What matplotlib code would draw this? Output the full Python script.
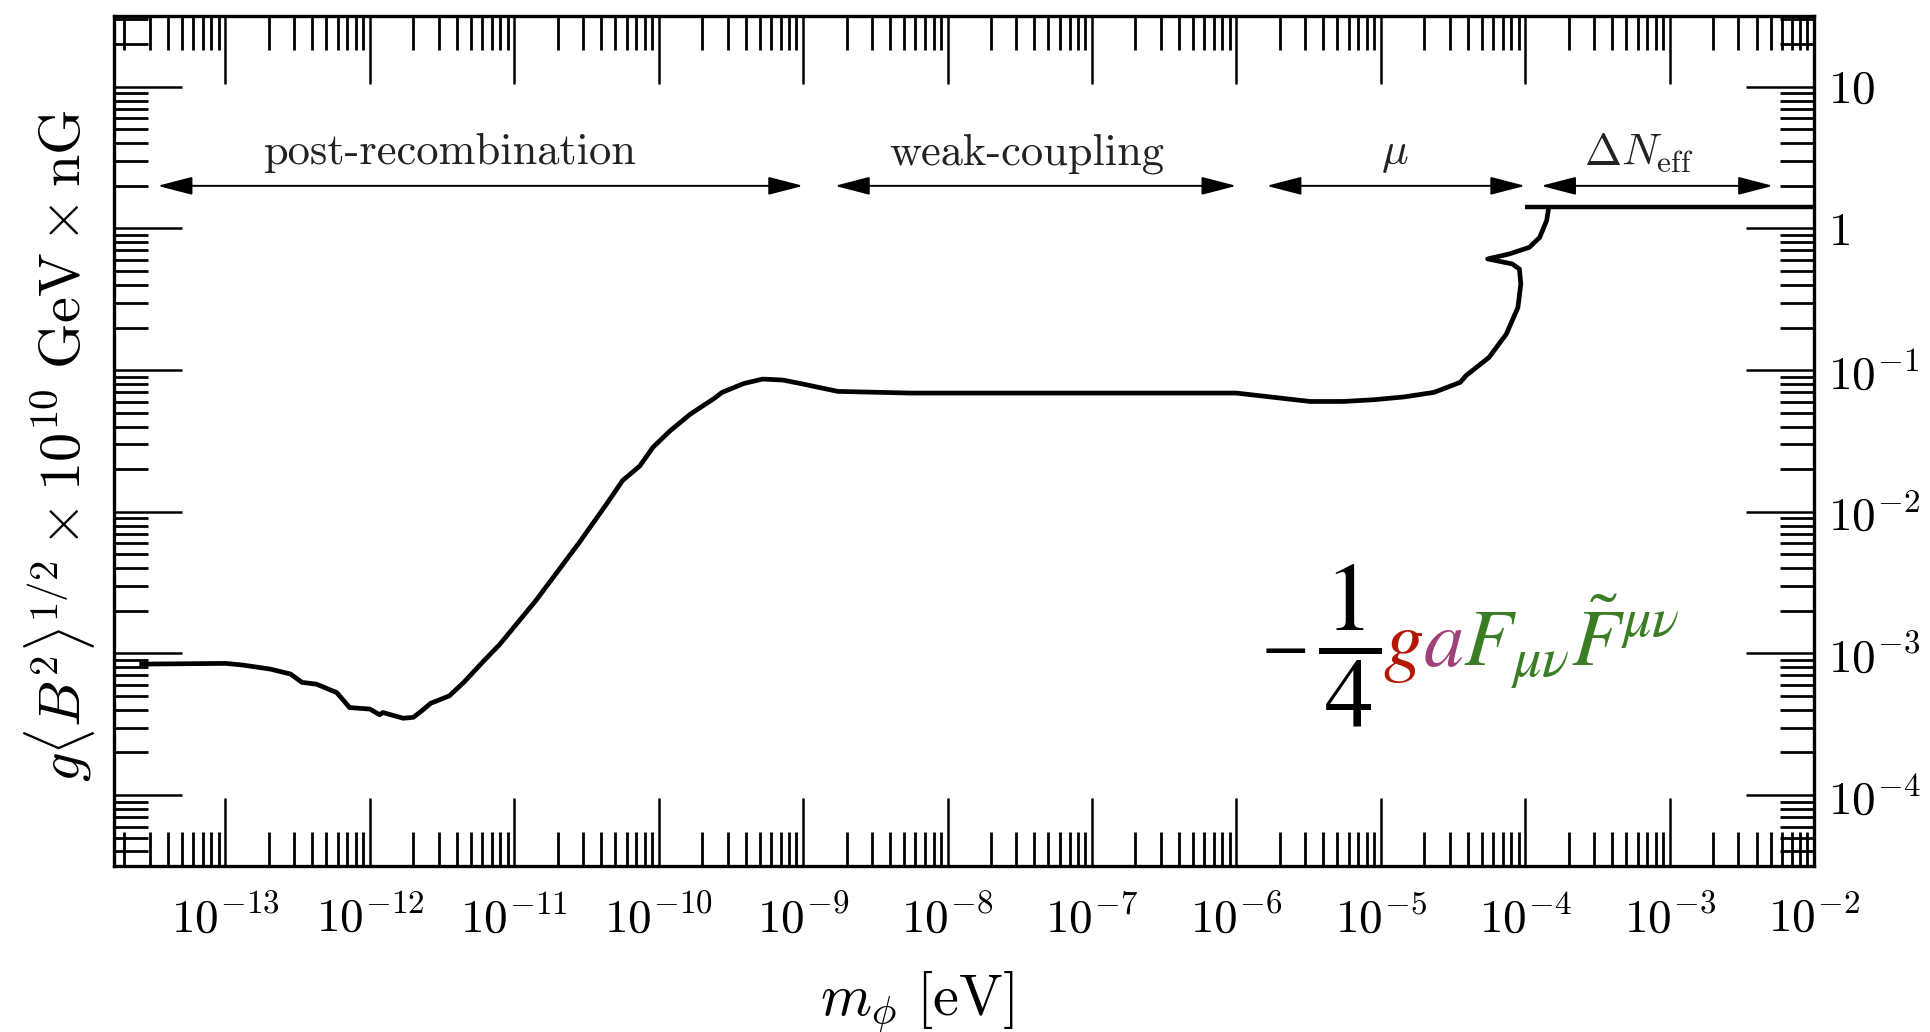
import numpy as np
import matplotlib
matplotlib.use("Agg")
import matplotlib.pyplot as plt
from matplotlib.ticker import LogLocator, FixedLocator, FuncFormatter, NullFormatter

plt.rcParams["mathtext.fontset"] = "cm"
plt.rcParams["font.family"] = "cmr10"
plt.rcParams["axes.formatter.use_mathtext"] = True

# Bound on g <B^2>^{1/2} as a function of the axion mass m_phi [eV]
mass = [2.63e-14, 1.0e-13, 1.32e-13, 2.04e-13, 2.82e-13, 3.39e-13, 4.27e-13,
        5.89e-13, 6.61e-13, 7.24e-13, 1.0e-12, 1.17e-12, 1.23e-12, 1.70e-12,
        2.0e-12, 2.29e-12, 2.63e-12, 3.55e-12, 4.47e-12, 6.17e-12, 7.94e-12,
        1.41e-11, 2.82e-11, 4.37e-11, 5.62e-11, 7.41e-11, 9.12e-11, 1.20e-10,
        1.66e-10, 2.40e-10, 2.75e-10, 3.89e-10, 5.25e-10, 7.24e-10, 9.55e-10,
        1.74e-9, 5.50e-9, 1.0e-6, 3.24e-6, 5.50e-6, 8.91e-6, 1.45e-5, 2.34e-5,
        3.55e-5, 3.89e-5, 5.62e-5, 7.41e-5, 8.91e-5, 9.33e-5, 9.12e-5, 8.13e-5,
        5.50e-5, 7.76e-5, 1.07e-4, 1.26e-4, 1.41e-4, 1.45e-4]
bound = [8.41e-4, 8.51e-4, 8.28e-4, 7.76e-4, 7.16e-4, 6.25e-4, 6.07e-4,
         5.30e-4, 4.63e-4, 4.15e-4, 4.05e-4, 3.69e-4, 3.83e-4, 3.49e-4,
         3.54e-4, 3.94e-4, 4.44e-4, 5.02e-4, 6.25e-4, 8.89e-4, 1.16e-3,
         2.36e-3, 6.07e-3, 1.14e-2, 1.66e-2, 2.11e-2, 2.85e-2, 3.73e-2,
         4.90e-2, 6.27e-2, 6.97e-2, 8.05e-2, 8.65e-2, 8.51e-2, 8.05e-2,
         7.08e-2, 6.89e-2, 6.89e-2, 6.01e-2, 6.01e-2, 6.18e-2, 6.47e-2, 6.97e-2,
         8.20e-2, 9.14e-2, 0.123, 0.180, 0.277, 0.406, 0.518, 0.562,
         0.610, 0.661, 0.736, 0.865, 1.14, 1.37]

# Delta N_eff bound
dneff_mass = [1.0e-4, 1.0e-2]
dneff_bound = [1.41, 1.41]

# Regimes marked by the double arrows
regimes = ["post-recombination", "weak-coupling", r"$\mu$", r"$\Delta N_{\mathrm{eff}}$"]
regime_lo = [3.39e-14, 1.66e-9, 1.62e-6, 1.29e-4]
regime_hi = [1.0e-9, 1.0e-6, 1.0e-4, 5.2e-3]
regime_text_x = [3.6e-12, 3.55e-8, 1.26e-5, 6.1e-4]
arrow_y = 2.0
text_y = 2.83

# Decades carrying a label
x_decades = [1e-13, 1e-12, 1e-11, 1e-10, 1e-9, 1e-8, 1e-7, 1e-6, 1e-5, 1e-4, 1e-3, 1e-2]
y_decades = [1e-4, 1e-3, 1e-2, 1e-1, 1, 10]

fig = plt.figure(figsize=(19.31, 10.32), dpi=100)
ax = fig.add_axes([0.0590, 0.1609, 0.8804, 0.8236])
ax.set_xscale("log")
ax.set_yscale("log")
ax.set_xlim(1.69e-14, 1e-2)
ax.set_ylim(10 ** -4.5, 10 ** 1.5)

ax.plot(mass, bound, color="black", lw=3.4, solid_joinstyle="round")
ax.plot(dneff_mass, dneff_bound, color="black", lw=3.2, solid_capstyle="butt")

for name, lo, hi, tx in zip(regimes, regime_lo, regime_hi, regime_text_x):
    ax.annotate("", xy=(hi, arrow_y), xytext=(lo, arrow_y),
                arrowprops=dict(arrowstyle="<|-|>,head_length=1.08,head_width=0.28",
                                mutation_scale=20, lw=1.4, color="black",
                                shrinkA=0, shrinkB=0))
    ax.text(tx, text_y, name, ha="center", va="baseline", fontsize=32,
            color="#222222")


def decade_label(v, pos):
    e = int(round(np.log10(v)))
    if e == 0:
        return r"$1$"
    if e == 1:
        return r"$10$"
    return r"$10^{%d}$" % e


for axis, dec in ((ax.xaxis, x_decades), (ax.yaxis, y_decades)):
    axis.set_major_locator(FixedLocator(dec))
    axis.set_minor_locator(LogLocator(base=10, subs=np.arange(2, 10), numticks=100))
    axis.set_major_formatter(FuncFormatter(decade_label))
    axis.set_minor_formatter(NullFormatter())

ax.tick_params(which="both", direction="in", top=True, bottom=True, left=True,
               right=True, labelleft=False, labelright=True, labeltop=False,
               labelbottom=True, colors="black", labelsize=34)
ax.tick_params(which="major", length=49, width=1.8)
ax.tick_params(which="minor", length=24.5, width=2.0)
ax.tick_params(axis="x", which="major", pad=21)
ax.tick_params(axis="y", which="major", pad=10)
for s in ax.spines.values():
    s.set_linewidth(2.4)

ax.set_xlabel(r"$m_\phi\ [\mathrm{eV}]$", fontsize=42)
ax.xaxis.set_label_coords(0.472, -0.122)
ax.yaxis.set_label_position("left")
ax.set_ylabel(r"$g\langle B^2\rangle^{1/2}\times 10^{10}\ \mathrm{GeV}\times\mathrm{nG}$",
              fontsize=42)
ax.yaxis.set_label_coords(-0.010, 0.494)

# Interaction term, coloured by factor; the fraction is set larger, with its
# bar kept level with the minus sign
fig.canvas.draw()
renderer = fig.canvas.get_renderer()
to_axes = ax.transAxes.inverted()
pieces = [(r"$-$", "black", 50, 0.0, 12.0),
          (r"$\dfrac{1}{\hspace{0.09}4\hspace{0.09}}$", "black", 70, -0.5, 2.0),
          (r"$g$", "#B31800", 58, 0.0, 0.0),
          (r"$a$", "#A0407A", 58, 0.0, 0.0),
          (r"$F_{\mu\nu}\tilde{F}^{\mu\nu}$", "#3A7D24", 58, 0.0, 0.0)]
x_ax, y_ax = 0.6745, 0.235
for s, c, size, dy_pt, gap_px in pieces:
    y_disp = ax.transAxes.transform((x_ax, y_ax))[1] + dy_pt * fig.dpi / 72.0
    y_here = to_axes.transform((0, y_disp))[1]
    t = ax.text(x_ax, y_here, s, color=c, fontsize=size, ha="left",
                va="baseline", transform=ax.transAxes, math_fontfamily="stix")
    bb = t.get_window_extent(renderer)
    x_ax = to_axes.transform((bb.x1 + gap_px, 0))[0]

fig.savefig("out.png", dpi=100)
